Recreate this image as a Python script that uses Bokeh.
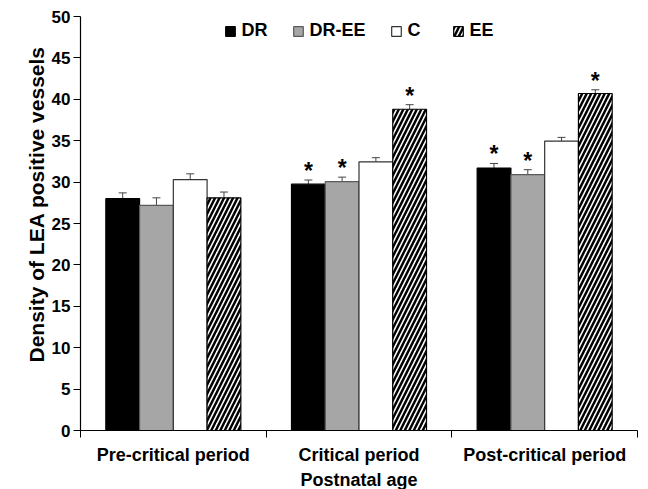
from bokeh.plotting import figure
from bokeh.models import (ColumnDataSource, FixedTicker, Legend, LegendItem,
                          Whisker, TeeHead, Range1d, Title)
from bokeh.core.properties import value
from bokeh.embed import file_html
from bokeh.resources import INLINE

periods = ["Pre-critical period", "Critical period", "Post-critical period"]
groups = ["DR", "DR-EE", "C", "EE"]
dr = [28.0, 29.75, 31.7]
dr_ee = [27.2, 30.05, 30.9]
c_vals = [30.3, 32.45, 34.95]
ee = [28.1, 38.8, 40.7]
dr_err = [0.7, 0.5, 0.55]
dr_ee_err = [0.9, 0.55, 0.6]
c_err = [0.7, 0.5, 0.45]
ee_err = [0.7, 0.55, 0.45]
dr_sig = [False, True, True]
dr_ee_sig = [False, True, True]
c_sig = [False, False, False]
ee_sig = [False, True, True]
y_ticks = [0, 5, 10, 15, 20, 25, 30, 35, 40, 45, 50]
x_title = "Postnatal age"
y_title = "Density of LEA positive vessels"

series = [
    (dr, dr_err, dr_sig, dict(fill_color="black", line_color="black")),
    (dr_ee, dr_ee_err, dr_ee_sig, dict(fill_color="#a6a6a6", line_color="#5a5a5a")),
    (c_vals, c_err, c_sig, dict(fill_color="white", line_color="#333333")),
    (ee, ee_err, ee_sig, dict(fill_color="white", line_color="black",
                             hatch_pattern="/", hatch_color="black",
                             hatch_scale=9, hatch_weight=2.5)),
]

FONT = "Liberation Sans"
bw = 1 / 5.5

p = figure(frame_width=557, frame_height=414, output_backend="svg", toolbar_location=None,
           x_range=Range1d(0, len(periods)), y_range=Range1d(0, 50),
           min_border_left=80, min_border_right=1, min_border_top=16,
           min_border_bottom=0)
p.outline_line_color = None
p.xgrid.visible = False
p.ygrid.visible = False
p.background_fill_color = "white"

items = []
for j, (vals, errs, sig, style) in enumerate(series):
    xs = [i + 0.5 + (j - 1.5) * bw for i in range(len(periods))]
    src = ColumnDataSource(dict(x=xs, top=vals, upper=[v + e for v, e in zip(vals, errs)]))
    r = p.vbar(x="x", top="top", width=bw, bottom=0, source=src, line_width=1.2, **style)
    items.append(LegendItem(label=groups[j], renderers=[r]))
    w = Whisker(base="x", upper="upper", lower="top", source=src, dimension="height",
                line_color="#444444", line_width=1,
                upper_head=TeeHead(size=8, line_color="#444444", line_width=1),
                lower_head=None)
    p.add_layout(w)
    sx = [x for x, s in zip(xs, sig) if s]
    sy = [v + e for v, e, s in zip(vals, errs, sig) if s]
    if sx:
        p.text(x=sx, y=sy, text=["*"] * len(sx), text_align="center",
               text_baseline="alphabetic", y_offset=-9, text_font=value(FONT),
               text_font_style="bold", text_font_size="23px", text_color="black")

legend = Legend(items=items, location="top_center", orientation="horizontal",
                border_line_color=None, background_fill_alpha=0,
                label_text_font=FONT, label_text_font_style="bold",
                label_text_color="black",
                label_text_font_size="18px", glyph_width=12, glyph_height=12,
                label_height=14, label_standoff=6, spacing=24, padding=6, margin=4)
p.add_layout(legend, "center")

# x axis
p.xaxis.ticker = FixedTicker(ticks=[0.5, 1.5, 2.5], minor_ticks=[0, 1, 2, 3])
p.xaxis.major_label_overrides = {0.5: periods[0], 1.5: periods[1], 2.5: periods[2]}
p.xaxis.major_tick_out = 0
p.xaxis.major_tick_in = 0
p.xaxis.minor_tick_out = 7
p.xaxis.minor_tick_in = 0
p.xaxis.minor_tick_line_color = "black"
p.xaxis.major_label_standoff = 7

# y axis
p.yaxis.ticker = FixedTicker(ticks=y_ticks, minor_ticks=[])
p.yaxis.major_tick_out = 7
p.yaxis.major_tick_in = 0
p.yaxis.major_label_standoff = 3

for ax in (p.xaxis, p.yaxis):
    ax.axis_line_color = "black"
    ax.axis_line_width = 1.2
    ax.major_tick_line_color = "black"
    ax.major_label_text_font = FONT
    ax.major_label_text_font_style = "bold"
    ax.major_label_text_font_size = "17px"
    ax.major_label_text_color = "black"
p.xaxis.major_label_text_font_size = "18px"

p.add_layout(Title(text=y_title, align="left", offset=68, standoff=2,
                   text_font=FONT, text_font_style="bold", text_font_size="21px",
                   text_color="black"), "left")
p.add_layout(Title(text=x_title, align="center", standoff=0,
                   text_font=FONT, text_font_style="bold", text_font_size="18px",
                   text_color="black"), "below")

open("out.html", "w").write(file_html(p, INLINE))
